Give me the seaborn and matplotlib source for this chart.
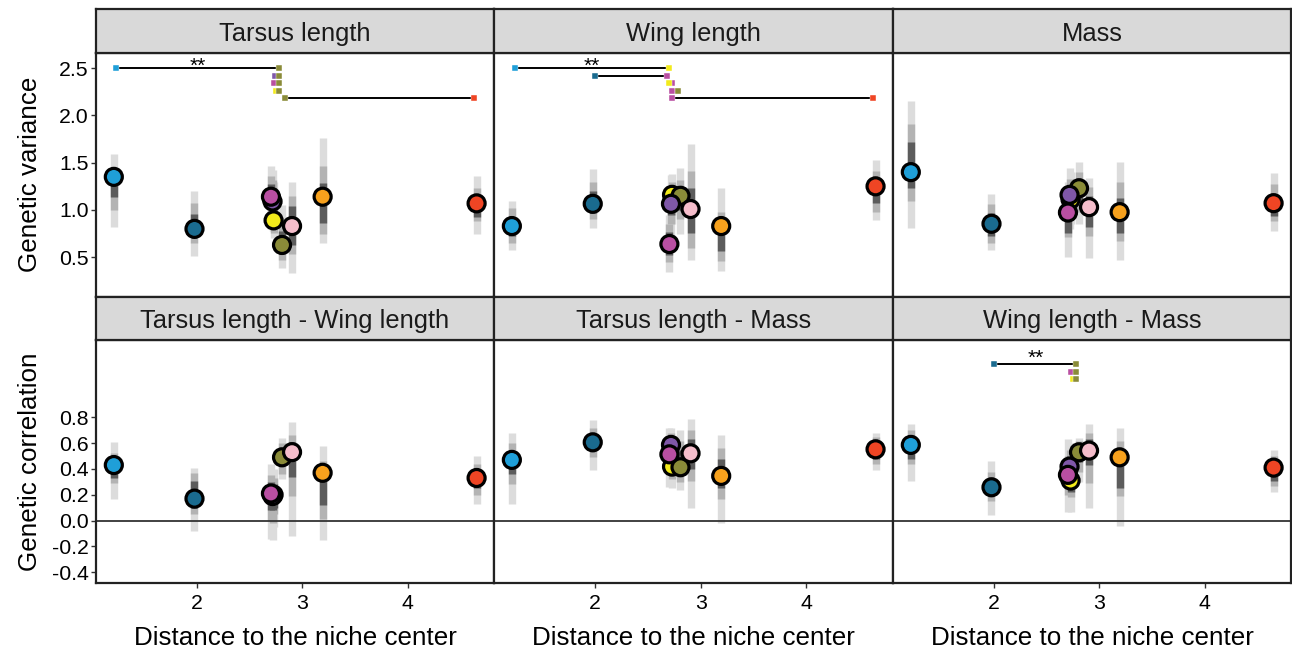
import matplotlib
matplotlib.use("Agg")
import matplotlib.pyplot as plt
import pandas as pd
import seaborn as sns

# populations, colours and distance to the niche center
pops = ["sky", "teal", "yellow", "olive", "purple", "magenta", "pink", "orange", "red"]
pop_colors = ["#1f9fd8", "#1a6b8f", "#f2ea1b", "#8a8b38", "#7f57a8",
              "#b94fa2", "#f5bdcb", "#f7a11d", "#ef4524"]
distance = [1.215, 1.98, 2.73, 2.81, 2.72, 2.705, 2.905, 3.195, 4.655]

# genetic variance
tarsus_est = [1.35, 0.80, 0.89, 0.63, 1.09, 1.14, 0.83, 1.14, 1.07]
tarsus_ci95 = [(0.82, 1.59), (0.51, 1.20), (0.70, 1.30), (0.39, 1.05), (0.78, 1.42),
               (0.80, 1.47), (0.33, 1.30), (0.65, 1.76), (0.745, 1.354)]
tarsus_ci80 = [(1.00, 1.45), (0.65, 1.07), (0.76, 1.12), (0.47, 0.90), (0.90, 1.32),
               (0.93, 1.36), (0.53, 1.15), (0.75, 1.47), (0.88, 1.23)]
tarsus_ci50 = [(1.14, 1.40), (0.72, 0.96), (0.81, 1.00), (0.53, 0.78), (0.98, 1.22),
               (1.02, 1.27), (0.63, 1.04), (0.86, 1.28), (0.93, 1.15)]

wing_est = [0.83, 1.065, 1.16, 1.15, 1.065, 0.64, 1.01, 0.83, 1.25]
wing_ci95 = [(0.58, 1.09), (0.81, 1.43), (0.85, 1.38), (0.75, 1.44), (0.72, 1.37),
             (0.34, 0.95), (0.47, 1.70), (0.35, 1.23), (0.89, 1.53)]
wing_ci80 = [(0.65, 1.02), (0.90, 1.30), (0.95, 1.30), (0.90, 1.32), (0.85, 1.25),
             (0.45, 0.85), (0.60, 1.41), (0.46, 0.98), (0.98, 1.41)]
wing_ci50 = [(0.72, 0.93), (0.97, 1.20), (1.02, 1.25), (1.00, 1.25), (0.95, 1.16),
             (0.52, 0.77), (0.76, 1.23), (0.57, 0.93), (1.07, 1.35)]

mass_est = [1.40, 0.854, 1.11, 1.23, 1.16, 0.973, 1.03, 0.977, 1.072]
mass_ci95 = [(0.81, 2.15), (0.58, 1.17), (0.85, 1.40), (0.85, 1.51), (0.80, 1.44),
             (0.50, 1.30), (0.49, 1.34), (0.47, 1.51), (0.78, 1.39)]
mass_ci80 = [(1.09, 1.91), (0.65, 1.06), (0.95, 1.30), (0.98, 1.40), (0.90, 1.33),
             (0.71, 1.15), (0.72, 1.24), (0.67, 1.30), (0.88, 1.27)]
mass_ci50 = [(1.23, 1.72), (0.72, 0.97), (1.00, 1.22), (1.08, 1.33), (1.00, 1.25),
             (0.76, 1.08), (0.82, 1.15), (0.76, 1.13), (0.94, 1.17)]

# genetic correlation
tw_est = [0.43, 0.17, 0.20, 0.49, 0.19, 0.21, 0.53, 0.37, 0.33]
tw_ci95 = [(0.17, 0.61), (-0.08, 0.41), (-0.05, 0.40), (0.32, 0.64), (-0.15, 0.33),
           (-0.14, 0.44), (-0.12, 0.76), (-0.15, 0.58), (0.13, 0.50)]
tw_ci80 = [(0.29, 0.52), (0.05, 0.37), (0.05, 0.33), (0.36, 0.60), (-0.02, 0.30),
           (0.00, 0.35), (0.19, 0.66), (0.01, 0.46), (0.20, 0.44)]
tw_ci50 = [(0.33, 0.48), (0.10, 0.31), (0.10, 0.28), (0.42, 0.56), (0.08, 0.27),
           (0.08, 0.30), (0.34, 0.61), (0.12, 0.42), (0.25, 0.40)]

tm_est = [0.47, 0.606, 0.418, 0.413, 0.586, 0.513, 0.521, 0.346, 0.552]
tm_ci95 = [(0.13, 0.68), (0.39, 0.78), (0.25, 0.62), (0.24, 0.70), (0.40, 0.72),
           (0.26, 0.72), (0.10, 0.79), (-0.02, 0.66), (0.39, 0.68)]
tm_ci80 = [(0.28, 0.60), (0.49, 0.72), (0.32, 0.55), (0.30, 0.62), (0.47, 0.68),
           (0.37, 0.64), (0.31, 0.70), (0.17, 0.56), (0.44, 0.65)]
tm_ci50 = [(0.36, 0.53), (0.54, 0.67), (0.36, 0.50), (0.35, 0.55), (0.52, 0.65),
           (0.44, 0.59), (0.40, 0.63), (0.25, 0.48), (0.48, 0.62)]

wm_est = [0.586, 0.258, 0.31, 0.529, 0.418, 0.354, 0.542, 0.49, 0.41]
wm_ci95 = [(0.31, 0.75), (0.04, 0.46), (0.07, 0.50), (0.30, 0.64), (0.15, 0.60),
           (0.07, 0.63), (0.10, 0.75), (-0.04, 0.72), (0.22, 0.55)]
wm_ci80 = [(0.44, 0.70), (0.15, 0.38), (0.18, 0.45), (0.38, 0.62), (0.25, 0.55),
           (0.20, 0.50), (0.29, 0.68), (0.19, 0.62), (0.27, 0.50)]
wm_ci50 = [(0.48, 0.66), (0.19, 0.33), (0.22, 0.40), (0.45, 0.60), (0.32, 0.50),
           (0.26, 0.45), (0.43, 0.63), (0.25, 0.55), (0.31, 0.47)]

# pairwise differences (first, second, label)
tarsus_sig = [("sky", "olive", "**"), ("purple", "olive", ""), ("magenta", "olive", ""),
              ("yellow", "olive", ""), ("olive", "red", "")]
wing_sig = [("sky", "yellow", "**"), ("teal", "magenta", ""), ("magenta", "yellow", ""),
            ("magenta", "olive", ""), ("magenta", "red", "")]
wm_sig = [("teal", "olive", "**"), ("magenta", "olive", ""), ("yellow", "olive", "")]

var_ticks = [0.5, 1.0, 1.5, 2.0, 2.5]
var_labels = ["0.5", "1.0", "1.5", "2.0", "2.5"]
cor_ticks = [-0.4, -0.2, 0.0, 0.2, 0.4, 0.6, 0.8]
cor_labels = ["-0.4", "-0.2", "0.0", "0.2", "0.4", "0.6", "0.8"]
x_ticks = [2, 3, 4]

panels = [
    ("Tarsus length", tarsus_est, tarsus_ci95, tarsus_ci80, tarsus_ci50, tarsus_sig),
    ("Wing length", wing_est, wing_ci95, wing_ci80, wing_ci50, wing_sig),
    ("Mass", mass_est, mass_ci95, mass_ci80, mass_ci50, []),
    ("Tarsus length - Wing length", tw_est, tw_ci95, tw_ci80, tw_ci50, []),
    ("Tarsus length - Mass", tm_est, tm_ci95, tm_ci80, tm_ci50, []),
    ("Wing length - Mass", wm_est, wm_ci95, wm_ci80, wm_ci50, wm_sig),
]

sns.set_theme(style="white")
plt.rcParams["font.family"] = ["Liberation Sans", "DejaVu Sans"]

W, H = 1292, 652
LIGHT, MID, DARK = "#dcdcdc", "#b3b3b3", "#5c5c5c"
EDGE = "#222222"
palette = dict(zip(pops, pop_colors))
pos = dict(zip(pops, distance))

col_edges = [96, 494, 893, 1291]
rows = [((9.3, 52.5), (52.5, 296.7)), ((296.7, 340), (340, 583))]
ylims = [(0.083, 2.665), (-0.483, 1.398)]
sig_top = [2.5, 1.21]
sig_step = [0.08, 0.057]
star_y = [2.582, 1.305]


def box(x0, y0, x1, y1):
    return [x0 / W, 1 - y1 / H, (x1 - x0) / W, (y1 - y0) / H]


fig = plt.figure(figsize=(W / 100, H / 100), dpi=100)

for i, (title, est, ci95, ci80, ci50, sig) in enumerate(panels):
    r, c = divmod(i, 3)
    (s0, s1), (p0, p1) = rows[r]
    x0, x1 = col_edges[c], col_edges[c + 1]

    ax = fig.add_axes(box(x0, p0, x1, p1))
    ax.set_facecolor("white")

    # credible intervals: widest first, darkest on top
    for ci, shade in ((ci95, LIGHT), (ci80, MID), (ci50, DARK)):
        lo = [v[0] for v in ci]
        hi = [v[1] for v in ci]
        ax.vlines(distance, lo, hi, colors=shade, linewidth=5.3,
                  capstyle="butt", zorder=1)

    if r == 1:
        ax.axhline(0, color="#333333", linewidth=1.3, zorder=2)

    df = pd.DataFrame({"pop": pops, "distance": distance, "est": est})
    sns.scatterplot(data=df, x="distance", y="est", hue="pop", palette=palette,
                    s=150, edgecolor="black", linewidth=2.3, legend=False,
                    ax=ax, zorder=3)

    for k, (a, b, lab) in enumerate(sig):
        yy = sig_top[r] - k * sig_step[r]
        xa, xb = pos[a] + 0.025, pos[b] - 0.025
        ax.plot([xa, xb], [yy, yy], color="black", linewidth=1.4, zorder=4)
        ax.plot(xa, yy, "s", color=palette[a], markersize=4.2,
                markeredgecolor="white", markeredgewidth=0.3, zorder=5)
        ax.plot(xb, yy, "s", color=palette[b], markersize=4.2,
                markeredgecolor="white", markeredgewidth=0.3, zorder=5)
        if lab:
            ax.annotate(lab, xy=((xa + xb) / 2, star_y[r]), xytext=(0, -8.6),
                        textcoords="offset points", ha="center", va="baseline",
                        fontsize=15, color="black")

    ax.set_xlim(1.046, 4.82)
    ax.set_ylim(*ylims[r])
    ax.set_xlabel("")
    ax.set_ylabel("")
    for sp in ax.spines.values():
        sp.set_color(EDGE)
        sp.set_linewidth(1.6)

    ax.tick_params(axis="both", direction="out", length=3.6, width=1.0,
                   color="#333333", labelsize=15.3, labelcolor="black")
    if r == 1:
        ax.set_xticks(x_ticks)
        ax.set_xticklabels([str(t) for t in x_ticks])
        ax.tick_params(axis="x", pad=4, bottom=True)
    else:
        ax.set_xticks([])
    if c == 0:
        ax.set_yticks(var_ticks if r == 0 else cor_ticks)
        ax.set_yticklabels(var_labels if r == 0 else cor_labels)
        ax.tick_params(axis="y", pad=1.5, left=True)
    else:
        ax.set_yticks([])

    sax = fig.add_axes(box(x0, s0, x1, s1))
    sax.set_facecolor("#d9d9d9")
    sax.set_xticks([])
    sax.set_yticks([])
    for sp in sax.spines.values():
        sp.set_color(EDGE)
        sp.set_linewidth(1.6)
    sax.text(0.5, 11.8 / (s1 - s0), title, transform=sax.transAxes,
             ha="center", va="baseline", fontsize=18.4, color="#1a1a1a")

    if r == 1:
        fig.text((x0 + x1) / 2 / W, 1 - 645 / H, "Distance to the niche center",
                 ha="center", va="baseline", fontsize=18.7, color="black")

fig.text(30 / W, 1 - (52.5 + 296.7) / 2 / H, "Genetic variance", rotation=90,
         ha="center", va="center", fontsize=18.7, color="black")
fig.text(30 / W, 1 - (340 + 583) / 2 / H, "Genetic correlation", rotation=90,
         ha="center", va="center", fontsize=18.7, color="black")

fig.savefig("out.png", dpi=100)
